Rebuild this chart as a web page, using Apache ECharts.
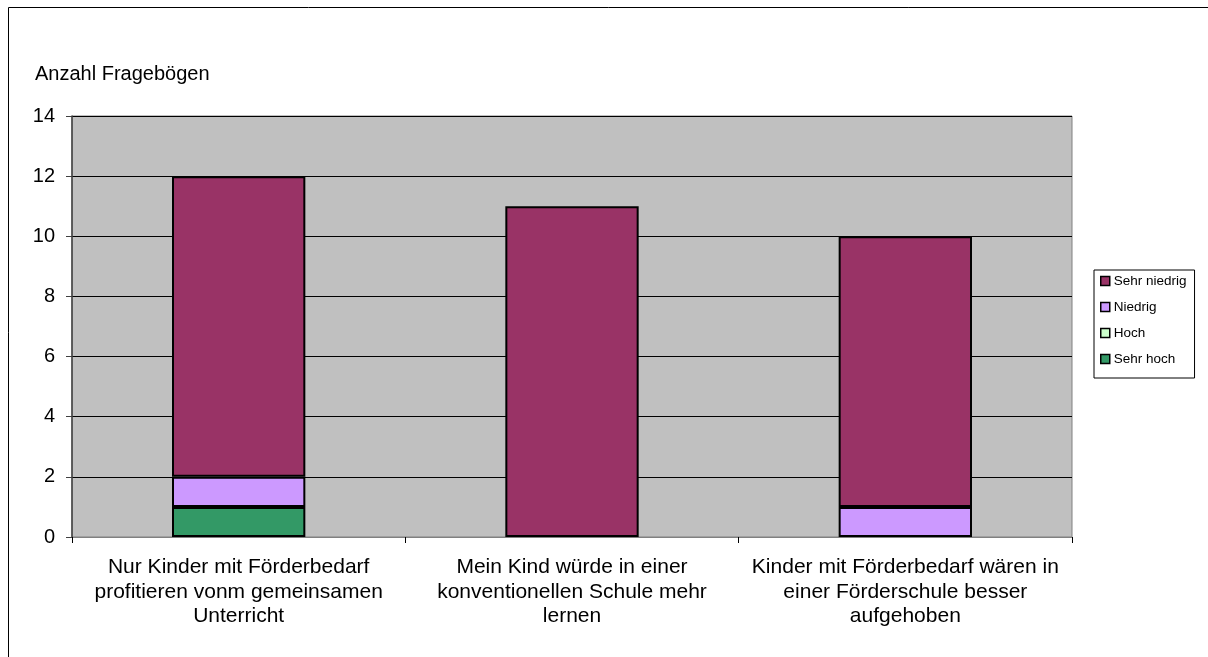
<!DOCTYPE html>
<html>
<head>
<meta charset="utf-8">
<script src="https://cdn.jsdelivr.net/npm/echarts@6/dist/echarts.min.js"></script>
<style>
  html, body { margin: 0; padding: 0; background: #fff; }
  #chart { width: 1208px; height: 657px; }
</style>
</head>
<body>
<div id="chart"></div>
<script>
// Kategorien und Werte
var categories = [
  'Nur Kinder mit Förderbedarf\nprofitieren vonm gemeinsamen\nUnterricht',
  'Mein Kind würde in einer\nkonventionellen Schule mehr\nlernen',
  'Kinder mit Förderbedarf wären in\neiner Förderschule besser\naufgehoben'
];
var sehrHoch = [1, 0, 0];
var hoch = [0, 0, 0];
var niedrig = [1, 0, 1];
var sehrNiedrig = [10, 11, 9];
var yTicks = [0, 2, 4, 6, 8, 10, 12, 14];

var font = 'Liberation Sans, Arial, sans-serif';
var chart = echarts.init(document.getElementById('chart'));

function bar(name, data, color) {
  return {
    name: name,
    type: 'bar',
    stack: 'gesamt',
    barWidth: '40%',
    // Nullwerte nicht zeichnen (sonst bleibt ein schwarzer Rand stehen)
    data: data.map(function (v) { return v === 0 ? null : v; }),
    itemStyle: { color: color, borderColor: '#000', borderWidth: 2 }
  };
}

var option = {
  animation: false,
  textStyle: { fontFamily: font },
  graphic: [{
    type: 'rect',
    shape: { x: 8.5, y: 7.5, width: 1300, height: 800 },
    style: { fill: 'none', stroke: '#000', lineWidth: 1 },
    silent: true
  }],
  grid: {
    left: 72, right: 136, top: 116, bottom: 120,
    show: true,
    backgroundColor: '#C0C0C0',
    borderColor: '#808080',
    borderWidth: 1
  },
  legend: {
    orient: 'vertical',
    left: 1094, top: 270,
    padding: [4, 8, 12, 6],
    backgroundColor: '#fff',
    borderColor: '#000',
    borderWidth: 1,
    borderRadius: 0,
    itemWidth: 9, itemHeight: 9,
    itemGap: 12,
    icon: 'rect',
    itemStyle: { borderColor: '#000', borderWidth: 1.5 },
    textStyle: { fontSize: 13.5, color: '#000', fontFamily: font, padding: [0, 0, 0, -1] },
    data: ['Sehr niedrig', 'Niedrig', 'Hoch', 'Sehr hoch']
  },
  xAxis: {
    type: 'category',
    data: categories,
    axisLine: { lineStyle: { color: '#808080', width: 1 } },
    axisTick: { show: true, length: 6, lineStyle: { color: '#000' } },
    axisLabel: { color: '#000', fontSize: 21, lineHeight: 24.5, margin: 18, interval: 0 }
  },
  yAxis: {
    type: 'value',
    min: 0, max: 14, interval: 2,
    name: 'Anzahl Fragebögen',
    nameLocation: 'end',
    nameGap: 32,
    nameTextStyle: { color: '#000', fontSize: 20, align: 'left', padding: [0, 0, 0, -37] },
    axisLine: { show: true, lineStyle: { color: '#404040', width: 1.5 } },
    axisTick: { show: true, length: 6, lineStyle: { color: '#404040' } },
    axisLabel: {
      color: '#000', fontSize: 20, margin: 17,
      formatter: function (v) { return yTicks.indexOf(v) >= 0 ? String(v) : ''; }
    },
    splitLine: { show: true, lineStyle: { color: '#000', width: 1 } }
  },
  series: [
    bar('Sehr hoch', sehrHoch, '#339966'),
    bar('Hoch', hoch, '#CCFFCC'),
    bar('Niedrig', niedrig, '#CC99FF'),
    bar('Sehr niedrig', sehrNiedrig, '#993366')
  ]
};
chart.setOption(option);
</script>
</body>
</html>
